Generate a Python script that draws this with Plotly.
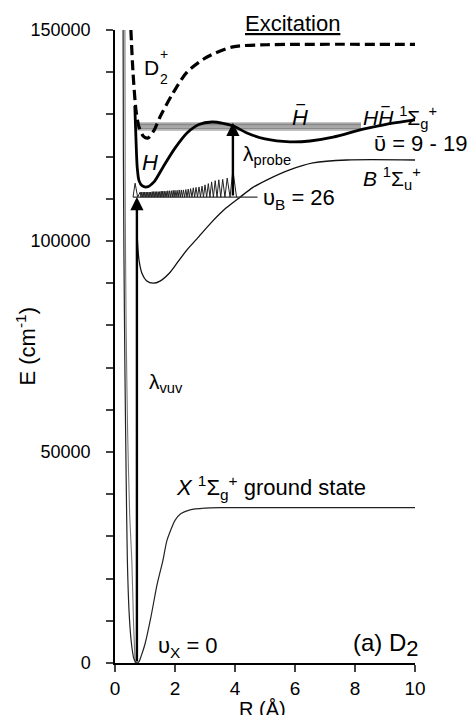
import plotly.graph_objects as go

# ---------------- data ----------------
# X 1Σg+ ground state
X_R = [0.27, 0.28, 0.30, 0.33, 0.37, 0.41, 0.47, 0.55, 0.63, 0.70, 0.74, 0.80, 0.88, 1.0, 1.2, 1.4, 1.6, 1.73, 2.0, 2.2, 2.5, 3.0, 3.5, 10.0]
X_E = [150000, 120000, 95000, 70000, 45000, 25000, 12000, 4500, 1000, 100, 0, 300, 1800, 4500, 11000, 18500, 24400, 29000, 33800, 35400, 36300, 36700, 36800, 36800]

# second inner repulsive wall (thin grey)
W2_R = [0.33, 0.34, 0.37, 0.42, 0.49, 0.56, 0.62, 0.67]
W2_E = [150000, 110000, 80000, 55000, 35000, 24400, 9000, 0]

# B 1Σu+ state
B_R = [0.72, 0.75, 0.80, 0.90, 1.05, 1.27, 1.50, 1.80, 2.07, 2.40, 2.73, 3.20, 3.70, 4.17, 4.60, 5.07, 5.80, 6.60, 7.73, 10.0]
B_E = [108000, 100000, 95500, 92300, 90600, 90000, 90500, 92300, 94800, 97900, 100500, 104300, 107800, 110400, 112700, 114500, 116800, 118500, 119200, 119200]

# H H-bar 1Σg+ state (double well)
H_R = [0.66, 0.70, 0.74, 0.80, 0.90, 1.07, 1.30, 1.60, 2.00, 2.40, 2.80, 3.23, 3.60, 3.93, 4.40, 5.00, 5.83, 6.50, 7.27, 8.27, 9.00, 10.0]
H_E = [132000, 124000, 117500, 114300, 113100, 112800, 114000, 117500, 122000, 125600, 127600, 128200, 127900, 127300, 125600, 124200, 123500, 123700, 124600, 126500, 127600, 128700]

# D2+ ion ground state
D_R = [0.53, 0.60, 0.70, 0.80, 0.95, 1.10, 1.30, 1.50, 1.93, 2.40, 3.07, 3.93, 5.07, 6.00, 10.0]
D_E = [150000, 140000, 131000, 127000, 124800, 124400, 126200, 129400, 135000, 140000, 143600, 146000, 146500, 146600, 146600]

# H H-bar vibrational levels v = 9 - 19
HH_levels = [126300, 126650, 127000, 127300, 127600, 127950]
HH_level_R = [0.73, 8.2]

# B state level v_B = 26 and its wavefunction peaks
vB_E = 110400
vB_R = [0.60, 4.75]
wf_peak_R = [0.67, 0.84, 0.89, 0.94, 0.99, 1.04, 1.09, 1.14, 1.19, 1.24, 1.29, 1.34, 1.39, 1.44, 1.49,
             1.54, 1.59, 1.64, 1.70, 1.76, 1.82, 1.88, 1.94, 2.00, 2.07, 2.14, 2.21, 2.28, 2.36, 2.44,
             2.52, 2.61, 2.70, 2.80, 2.90, 3.00, 3.11, 3.22, 3.34, 3.46, 3.59, 3.74, 3.93]
wf_peak_E = [113700, 111600, 111600, 111600, 111600, 111600, 111600, 111600, 111600, 111700, 111700, 111700, 111700, 111700, 111700,
             111800, 111800, 111800, 111800, 111900, 111900, 111900, 112000, 112000, 112000, 112100, 112100, 112100, 112200, 112300,
             112400, 112600, 112700, 112800, 113000, 113300, 113600, 114000, 114300, 114500, 114600, 114900, 116800]
wf_end_R = [0.60, 4.05]

# transitions
vuv_R, vuv_E0, vuv_E1 = 0.73, 0, 110400
probe_R, probe_E0, probe_E1 = 3.93, 110400, 128000

x_ticks = [0, 2, 4, 6, 8, 10]
y_ticks = list(range(0, 150001, 10000))
y_ticktext = [f"{v}" if v % 50000 == 0 else "" for v in y_ticks]

FONT = "Liberation Sans, Arial, sans-serif"

fig = go.Figure()

# HH-bar levels band
lx, ly = [], []
for e in HH_levels:
    lx += [HH_level_R[0], HH_level_R[1], None]
    ly += [e, e, None]
fig.add_trace(go.Scatter(x=lx, y=ly, mode="lines", line=dict(color="#8a8a8a", width=1.2), hoverinfo="skip"))

# inner walls
fig.add_trace(go.Scatter(x=W2_R, y=W2_E, mode="lines", line=dict(color="#777777", width=1.1, shape="spline", smoothing=0.6)))
fig.add_trace(go.Scatter(x=X_R, y=X_E, mode="lines", line=dict(color="#222222", width=1.2, shape="spline", smoothing=0.6)))
fig.add_trace(go.Scatter(x=B_R, y=B_E, mode="lines", line=dict(color="#111111", width=1.3, shape="spline", smoothing=0.8)))

# v_B = 26 level
fig.add_trace(go.Scatter(x=vB_R, y=[vB_E, vB_E], mode="lines", line=dict(color="#333333", width=1.3)))

# wavefunction zigzag built from peaks
wx, wy = [wf_end_R[0]], [vB_E]
for i, (r, e) in enumerate(zip(wf_peak_R, wf_peak_E)):
    wx.append(r); wy.append(e)
    if i + 1 < len(wf_peak_R):
        wx.append((r + wf_peak_R[i + 1]) / 2); wy.append(vB_E)
wx.append(wf_end_R[1]); wy.append(vB_E)
fig.add_trace(go.Scatter(x=wx, y=wy, mode="lines", line=dict(color="#222222", width=1.0)))

# H H-bar and D2+
fig.add_trace(go.Scatter(x=H_R, y=H_E, mode="lines", line=dict(color="black", width=2.8, shape="spline", smoothing=0.8)))
fig.add_trace(go.Scatter(x=D_R, y=D_E, mode="lines", line=dict(color="black", width=3.2, dash="10px,5px", shape="spline", smoothing=0.8)))

# arrows
for (r, e0, e1) in [(vuv_R, vuv_E0, vuv_E1), (probe_R, probe_E0, probe_E1)]:
    fig.add_annotation(x=r, y=e1, ax=r, ay=e0, xref="x", yref="y", axref="x", ayref="y",
                       showarrow=True, arrowhead=2, arrowsize=1.1, arrowwidth=2.4, arrowcolor="black", text="")

def label(x, y, text, size=20, xanchor="left", xref="x", yref="y", **kw):
    fig.add_annotation(x=x, y=y, xref=xref, yref=yref, text=text, showarrow=False, xanchor=xanchor,
                       yanchor="middle", font=dict(family=FONT, size=size, color="black"), **kw)

OVER = "\u203e"
label(5.93, 1.011, "<u>Excitation</u>", size=22, xanchor="center", yref="paper")
label(0.90, 141200, "D", size=21)
label(1.43, 144300, "+", size=14)
label(1.43, 138300, "2", size=14)
label(1.17, 118500, "<i>H</i>", size=22, xanchor="center")
label(6.17, 129200, "<i>H</i>", size=22, xanchor="center")
label(6.20, 130000, OVER, size=22, xanchor="center")
label(8.2, 129200, "<i>H</i><i>H</i> <sup>1</sup>Σ<sub>g</sub><sup>+</sup>", size=21)
label(9.03, 130000, OVER, size=21, xanchor="center")
label(8.55, 123200, "\u03c5\u0304 = 9 - 19", size=22)
label(8.2, 114800, "<i>B</i> <sup>1</sup>Σ<sub>u</sub><sup>+</sup>", size=21)
label(4.85, 110000, "\u03c5<sub>B</sub> = 26", size=22)
label(4.2, 120400, "λ<sub>probe</sub>", size=21)
label(1.05, 66400, "λ<sub>vuv</sub>", size=21)
label(1.95, 41500, "<i>X</i> <sup>1</sup>Σ<sub>g</sub><sup>+</sup> ground state", size=22)
label(1.38, 3900, "\u03c5<sub>X</sub> = 0", size=22)
label(7.85, 4300, "(a) D<sub><span style='font-size:22px'>2</span></sub>", size=24)

# axis titles as annotations
fig.add_annotation(x=-0.3, y=0.5, xref="paper", yref="paper", text="E (cm<sup>-1</sup>)", textangle=-90,
                   xanchor="center", showarrow=False, font=dict(family=FONT, size=22, color="black"))
fig.add_annotation(x=0.493, y=-0.072, xref="paper", yref="paper", text="R (Å)", showarrow=False,
                   yanchor="middle", xanchor="center", font=dict(family=FONT, size=20, color="black"))

fig.update_layout(
    width=470, height=715, margin=dict(l=115, r=55, t=30, b=52),
    paper_bgcolor="white", plot_bgcolor="white", showlegend=False,
    font=dict(family=FONT, color="black"),
)
fig.update_xaxes(range=[0, 10], tickvals=x_ticks, ticks="outside", ticklen=7, tickwidth=1.5,
                 showline=True, linecolor="black", linewidth=1.5, showgrid=False, zeroline=False,
                 tickfont=dict(family=FONT, size=19, color="black"))
fig.update_yaxes(range=[0, 150000], tickvals=y_ticks, ticktext=y_ticktext, ticks="outside", ticklen=7,
                 tickwidth=1.5, showline=True, linecolor="black", linewidth=1.5, showgrid=False,
                 zeroline=False, ticklabelstandoff=12, tickfont=dict(family=FONT, size=18, color="black"))

fig.write_html("out.html", config={"displayModeBar": False},
               post_script="document.body.style.margin='0';document.body.style.overflow='hidden';")
